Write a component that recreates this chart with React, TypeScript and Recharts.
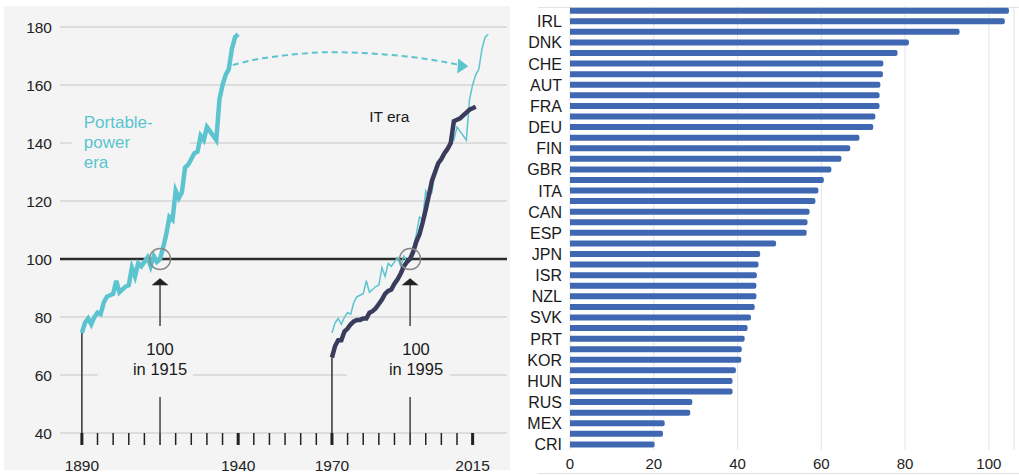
import React from 'react';
import {
  LineChart, Line, XAxis, YAxis, CartesianGrid,
  ReferenceLine, ReferenceArea, ReferenceDot,
  BarChart, Bar,
} from 'recharts';

// ---- left panel: productivity index, two eras ----
const portableStartYear = 1890;
const portableIndex = [
  74.5, 78, 79.5, 77.5, 80, 81.5, 81, 85, 87, 87.5,
  88, 92.5, 88.5, 89.5, 90.5, 91, 97, 94, 98.5, 97.5,
  99, 100.5, 97.5, 101, 99, 100, 104, 108.5, 114.5, 113.5,
  123.5, 121, 123, 131.5, 132.5, 134.5, 136.5, 137, 142.5, 141,
  145.5, 144, 142.5, 141, 155, 160, 163.5, 165.5, 172.5, 176.5,
  177.5,
];
const itStartYear = 1970;
const itIndex = [
  66, 70, 72, 72, 75, 76, 77.5, 78.5, 79, 79,
  79.5, 79.5, 81.5, 82, 83, 84.5, 86, 88, 89, 89.5,
  91.5, 93, 95, 97.5, 99, 100, 102.5, 106, 108.5, 112.5,
  117, 122, 127, 130, 133, 134.5, 136.5, 138, 140, 147.5,
  148, 148.5, 149.5, 150.5, 151.5, 152, 152.5,
];
// years between the two eras' "100" points
const eraShift = 80;
const arcYears = [1938.3, 1944.7, 1955.6, 1969.4, 1982.2, 1994, 2003.6, 2011];
const arcValues = [166.9, 168.6, 170.3, 171.3, 170.9, 169.8, 168.4, 166.9];

const yTicks = [40, 60, 80, 100, 120, 140, 160, 180];
const yearTicks = [
  1890, 1895, 1900, 1905, 1910, 1915, 1920, 1925, 1930, 1935, 1940,
  1945, 1950, 1955, 1960, 1965, 1970, 1975, 1980, 1985, 1990, 1995,
  2000, 2005, 2010, 2015,
];
const yearLabels = [1890, 1940, 1970, 2015];

// ---- right panel: country bars ----
const countryCodes = [
  '', 'IRL', '', 'DNK', '', 'CHE', '', 'AUT', '', 'FRA', '', 'DEU', '', 'FIN',
  '', 'GBR', '', 'ITA', '', 'CAN', '', 'ESP', '', 'JPN', '', 'ISR', '', 'NZL',
  '', 'SVK', '', 'PRT', '', 'KOR', '', 'HUN', '', 'RUS', '', 'MEX', '', 'CRI',
];
const countryValues = [
  104.8, 103.8, 93.0, 80.9, 78.2, 74.8, 74.7, 74.1, 73.9, 73.9, 72.9, 72.4, 69.1, 66.9,
  64.8, 62.4, 60.6, 59.3, 58.6, 57.2, 56.7, 56.5, 49.2, 45.4, 45.0, 44.6, 44.5, 44.5,
  44.1, 43.2, 42.4, 41.7, 41.0, 40.9, 39.6, 38.8, 38.8, 29.2, 28.7, 22.6, 22.2, 20.2,
];
const barTicks = [0, 20, 40, 60, 80, 100];

const CYAN = '#5bc4cf';
const NAVY = '#3b3b5d';
const BG = '#f4f4f4';
const FONT = '"Liberation Sans", Arial, Helvetica, sans-serif';

const portableData = portableIndex.map((v, i) => ({ year: portableStartYear + i, v }));
const portableShifted = portableIndex.map((v, i) => ({ year: portableStartYear + i + eraShift, v }));
const itData = itIndex.map((v, i) => ({ year: itStartYear + i, v }));
const arcData = arcYears.map((year, i) => ({ year, v: arcValues[i] }));
const barRows = countryValues.map((value, i) => ({ id: i, value }));

function YearTick(props: any) {
  const { x, y, payload } = props;
  const yr = payload.value as number;
  const labelled = yearLabels.includes(yr);
  return (
    <g>
      <line x1={x} x2={x} y1={y} y2={y + 12} stroke="#222" strokeWidth={labelled ? 3 : 1.5} />
      {labelled && (
        <text x={x} y={y + 38} textAnchor="middle" fontSize={15.5} fill="#222">{yr}</text>
      )}
    </g>
  );
}

const upArrow = (p: any) => (
  <polygon
    points={`${p.cx},${p.cy} ${p.cx - 8.5},${p.cy + 7} ${p.cx + 8.5},${p.cy + 7}`}
    fill="#222"
  />
);

const arcHead = (p: any) => (
  <polygon
    points={`${p.cx},${p.cy} ${p.cx - 10},${p.cy - 7.7} ${p.cx - 11},${p.cy + 7.3}`}
    fill={CYAN}
  />
);

const lines = (texts: string[], anchor: string, color: string, size: number) => (p: any) => (
  <text x={p.cx} y={p.cy} textAnchor={anchor} fill={color} fontSize={size}>
    {texts.map((t, i) => (
      <tspan key={t} x={p.cx} dy={i === 0 ? 0 : 20}>{t}</tspan>
    ))}
  </text>
);

function EraChart() {
  return (
    <LineChart width={515} height={475} margin={{ top: 27, right: 8, bottom: 0, left: 0 }}>
      <CartesianGrid vertical={false} stroke="#d6d6d6" strokeWidth={1.3} />
      <XAxis
        type="number"
        dataKey="year"
        domain={[1883, 2026]}
        ticks={yearTicks}
        interval={0}
        height={42}
        axisLine={false}
        tickLine={false}
        tickSize={0}
        tickMargin={0}
        tick={<YearTick />}
      />
      <YAxis
        type="number"
        domain={[40, 180]}
        ticks={yTicks}
        width={60}
        axisLine={false}
        tickLine={false}
        tick={{ fontSize: 15.5, fill: '#222' }}
      />
      <ReferenceArea x1={1886.8} x2={1924.6} y1={137} y2={143} fill={BG} fillOpacity={1} stroke="none" />
      <ReferenceArea x1={1895.1} x2={1925.5} y1={57} y2={63} fill={BG} fillOpacity={1} stroke="none" />
      <ReferenceArea x1={1974.8} x2={2007.8} y1={57} y2={63} fill={BG} fillOpacity={1} stroke="none" />
      <ReferenceLine y={100} stroke="#2b2b2b" strokeWidth={2.6} />
      <ReferenceLine segment={[{ x: 1890, y: 40 }, { x: 1890, y: portableIndex[0] }]} stroke="#333" strokeWidth={1.5} />
      <ReferenceLine segment={[{ x: 1970, y: 40 }, { x: 1970, y: itIndex[0] }]} stroke="#333" strokeWidth={1.5} />
      <ReferenceLine segment={[{ x: 1915, y: 40 }, { x: 1915, y: 52.4 }]} stroke="#444" strokeWidth={1.5} />
      <ReferenceLine segment={[{ x: 1995, y: 40 }, { x: 1995, y: 52.4 }]} stroke="#444" strokeWidth={1.5} />
      <ReferenceLine segment={[{ x: 1915, y: 76.9 }, { x: 1915, y: 92 }]} stroke="#444" strokeWidth={1.5} />
      <ReferenceLine segment={[{ x: 1995, y: 76.9 }, { x: 1995, y: 92 }]} stroke="#444" strokeWidth={1.5} />
      <Line data={arcData} dataKey="v" type="monotone" stroke={CYAN} strokeWidth={2}
        strokeDasharray="6 4" dot={false} isAnimationActive={false} />
      <Line data={portableData} dataKey="v" type="linear" stroke={CYAN} strokeWidth={4.5}
        dot={false} isAnimationActive={false} />
      <Line data={portableShifted} dataKey="v" type="linear" stroke={CYAN} strokeWidth={1.5}
        dot={false} isAnimationActive={false} />
      <Line data={itData} dataKey="v" type="linear" stroke={NAVY} strokeWidth={4.5}
        dot={false} isAnimationActive={false} />
      <ReferenceDot x={1915} y={100} r={10.5} fill="none" stroke="#888" strokeWidth={1.5} />
      <ReferenceDot x={1995} y={100} r={10.5} fill="none" stroke="#888" strokeWidth={1.5} />
      <ReferenceDot x={1915} y={93.4} r={1} shape={upArrow} />
      <ReferenceDot x={1995} y={93.4} r={1} shape={upArrow} />
      <ReferenceDot x={2013.6} y={166.5} r={1} shape={arcHead} />
      <ReferenceDot x={1890.6} y={145.1} r={1} shape={lines(['Portable-', 'power', 'era'], 'start', CYAN, 17)} />
      <ReferenceDot x={1981.9} y={147.3} r={1} shape={lines(['IT era'], 'start', '#1a1a1a', 15.5)} />
      <ReferenceDot x={1915} y={66.9} r={1} shape={lines(['100', 'in 1915'], 'middle', '#1a1a1a', 16.5)} />
      <ReferenceDot x={1996.9} y={66.9} r={1} shape={lines(['100', 'in 1995'], 'middle', '#1a1a1a', 16.5)} />
    </LineChart>
  );
}

function CountryChart() {
  return (
    <BarChart
      width={499}
      height={475}
      layout="vertical"
      data={barRows}
      margin={{ top: 5.7, right: 5, bottom: 0, left: 0 }}
    >
      <CartesianGrid horizontal={false} stroke="#e4e4e4" />
      <XAxis
        type="number"
        domain={[0, 106]}
        ticks={barTicks}
        height={25}
        axisLine={false}
        tickLine={false}
        tick={{ fontSize: 15, fill: '#222' }}
      />
      <YAxis
        type="category"
        dataKey="id"
        width={50}
        interval={0}
        axisLine={false}
        tickLine={false}
        tickFormatter={(i) => countryCodes[i as number]}
        tick={{ fontSize: 16, fill: '#1a1a1a' }}
      />
      <Bar dataKey="value" fill="#4068b2" barSize={6} radius={[0, 2, 2, 0]} isAnimationActive={false} />
    </BarChart>
  );
}

export default function App() {
  return (
    <div style={{ position: 'absolute', left: 0, top: 0, width: 1019, height: 475, overflow: 'hidden', background: '#fff', fontFamily: FONT }}>
      <div style={{ position: 'absolute', left: 4, top: 6, width: 506, height: 464, background: BG }} />
      <div style={{ position: 'absolute', left: 538, top: 7, width: 481, height: 1, background: '#e2e2e2' }} />
      <div style={{ position: 'absolute', left: 538, top: 473, width: 481, height: 1, background: '#e2e2e2' }} />
      <div style={{ position: 'absolute', left: 0, top: 0 }}>
        <EraChart />
      </div>
      <div style={{ position: 'absolute', left: 520, top: 0 }}>
        <CountryChart />
      </div>
    </div>
  );
}
